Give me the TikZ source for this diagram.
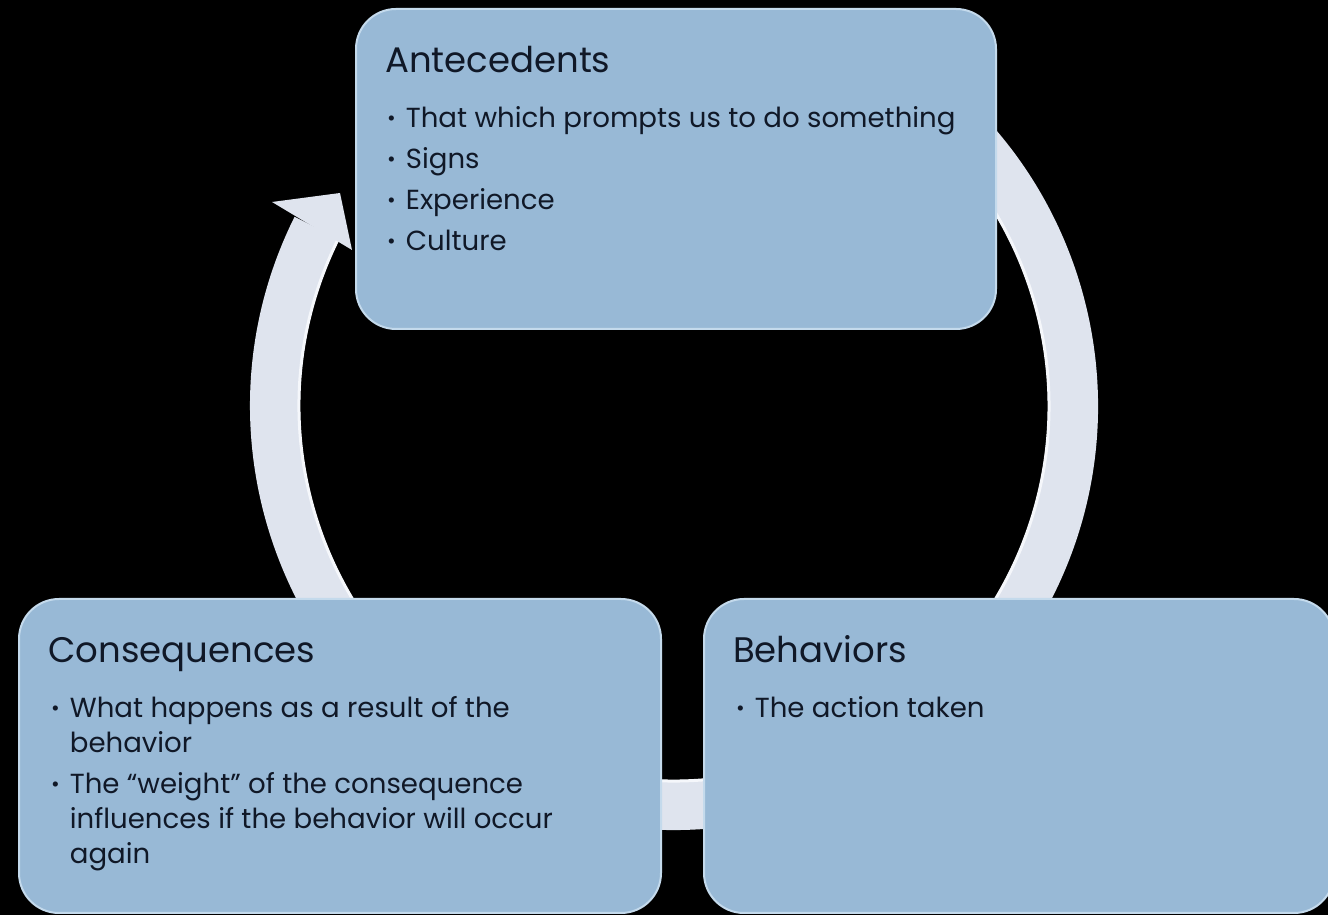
\documentclass[tikz,border=0pt]{standalone}
\usepackage{fontspec}
\setmainfont{Poppins}
\usetikzlibrary{calc}
\definecolor{abcBox}{HTML}{98B9D6}
\definecolor{abcBoxEdge}{HTML}{C4DAEC}
\definecolor{abcRing}{HTML}{DFE4EE}
\definecolor{abcRingLight}{HTML}{F5F7FB}
\definecolor{abcText}{HTML}{101827}
\newcommand{\abcdot}{\raisebox{2pt}{\fontsize{21}{21}\selectfont\textbullet}}

\begin{document}
\begin{tikzpicture}[
    x=1pt, y=1pt,
    stagebox/.style={
        draw=abcBoxEdge, line width=2pt, fill=abcBox,
        rounded corners=40pt, inner sep=0pt
    },
    headtext/.style={anchor=base west, inner sep=0pt, text=abcText,
        font=\fontsize{35.5}{40}\selectfont},
    itemtext/.style={anchor=base west, inner sep=0pt, text=abcText,
        align=left, font=\fontsize{27.6}{35}\selectfont}
]
\fill[black] (0,0) rectangle (1328,915);
\useasboundingbox (0,0) rectangle (1328,915);

% cycle ring behind the boxes
\coordinate (hub) at (674,509);
\fill[abcRing] ($(hub)+(60:424)$) arc[start angle=60, end angle=-206.5, radius=424]
    -- ($(hub)+(153.5:374)$) arc[start angle=153.5, end angle=420, radius=374] -- cycle;
\draw[abcRingLight, line width=3pt] ($(hub)+(153.5:375)$) arc[start angle=153.5, end angle=420, radius=375];
\fill[abcRing] (272,713) -- (340,722) -- (352,665) -- cycle;

% boxes
\node[stagebox, minimum width=640pt, minimum height=320pt, anchor=north west] (ante) at (355,907) {};
\node[stagebox, minimum width=642pt, minimum height=314pt, anchor=north west] (cons) at (18,317) {};
\node[stagebox, minimum width=630pt, minimum height=314pt, anchor=north west] (beh) at (703,317) {};

% texts
\node[headtext] (anteHead) at ($(ante.north west)+(30,-65)$) {Antecedents};
\node[itemtext] (anteList) at ($(ante.north west)+(32,-120)$) {%
    \begin{tabular}[t]{@{}l@{\hspace{10pt}}l@{}}
    \abcdot & That which prompts us to do something\\[6pt]
    \abcdot & Signs\\[6pt]
    \abcdot & Experience\\[6pt]
    \abcdot & Culture
    \end{tabular}};

\node[headtext] (consHead) at ($(cons.north west)+(30,-65)$) {Consequences};
\node[itemtext] (consList) at ($(cons.north west)+(33,-120)$) {%
    \begin{tabular}[t]{@{}l@{\hspace{10pt}}l@{}}
    \abcdot & What happens as a result of the\\
            & behavior\\[6pt]
    \abcdot & The “weight” of the consequence\\
            & influences if the behavior will occur\\
            & again
    \end{tabular}};

\node[headtext] (behHead) at ($(beh.north west)+(30,-65)$) {Behaviors};
\node[itemtext] (behList) at ($(beh.north west)+(33,-120)$) {%
    \begin{tabular}[t]{@{}l@{\hspace{10pt}}l@{}}
    \abcdot & The action taken
    \end{tabular}};
\end{tikzpicture}
\end{document}
